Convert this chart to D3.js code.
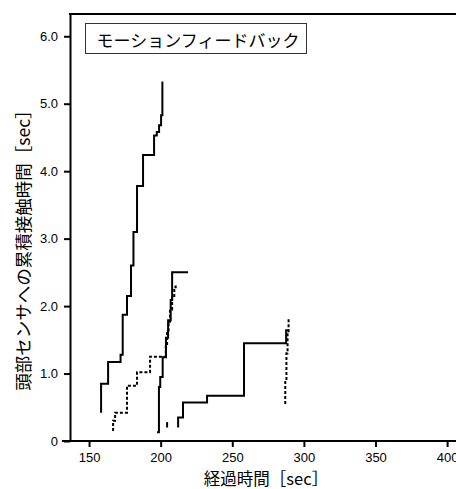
<!DOCTYPE html>
<html>
<head>
<meta charset="utf-8">
<script src="https://cdn.jsdelivr.net/npm/d3@7"></script>
<style>
  body { margin: 0; background: #fff; }
  text { font-family: "Liberation Sans", Arial, sans-serif; }
  .jp { font-family: "Noto Sans CJK JP", sans-serif; }
</style>
</head>
<body>
<div id="chart"></div>
<script>
// DATA: elapsed time [sec] at each contact event, and cumulative contact time [sec]
const timesA  = [158.4, 158.4, 163.3, 172.0, 173.5, 176.5, 179.3, 181.0, 183.5, 187.7, 195.4, 197.3, 198.9, 200.3, 201.2];
const valuesA = [0.42, 0.85, 1.17, 1.28, 1.87, 2.15, 2.60, 3.10, 3.78, 4.24, 4.53, 4.58, 4.68, 4.83, 5.33];

const timesB  = [166.8, 166.8, 168.2, 176.5, 183.5, 192.6, 203.6, 204.5, 205.5, 206.5, 208.0, 209.5, 210.5];
const valuesB = [0.15, 0.30, 0.42, 0.82, 1.02, 1.25, 1.40, 1.60, 1.75, 1.95, 2.15, 2.28, 2.33];

const timesC  = [197.5, 198.8, 198.8, 199.7, 201.4, 203.7, 205.2, 207.0, 208.0, 219.1];
const valuesC = [0.13, 0.13, 0.80, 0.95, 1.24, 1.53, 1.79, 2.09, 2.50, 2.50];

const timesD  = [212.2, 212.2, 215.6, 232.4, 258.2, 287.6, 289.6];
const valuesD = [0.20, 0.35, 0.57, 0.67, 1.45, 1.64, 1.64];

const timesE  = [287.0, 287.0, 287.8, 288.6, 289.3];
const valuesE = [0.55, 0.90, 1.30, 1.60, 1.83];

const timesF  = [204.5, 204.5];
const valuesF = [0.20, 0.28];

const seriesList = [
    { t: timesA, v: valuesA, dashed: false },
    { t: timesB, v: valuesB, dashed: true },
    { t: timesC, v: valuesC, dashed: false },
    { t: timesD, v: valuesD, dashed: false },
    { t: timesE, v: valuesE, dashed: true },
    { t: timesF, v: valuesF, dashed: false }
];

const xTicks = [150, 200, 250, 300, 350, 400];
const yTicks = [0, 1, 2, 3, 4, 5, 6];
const legendLabel = "モーションフィードバック";
const xLabel = "経過時間［sec］";
const yLabel = "頭部センサへの累積接触時間［sec］";

// SIZE
const width = 456;
const height = 489;
const marginLeft = 70, plotTop = 14, plotBottom = 441;

const svg = d3.select("#chart").append("svg")
    .attr("width", width)
    .attr("height", height);

// SCALES
const x = d3.scaleLinear().domain([136.7, 406.2]).range([marginLeft, width]);
const y = d3.scaleLinear().domain([0, 6.33]).range([plotBottom, plotTop]);

// AXES
const xAxis = svg.append("g")
    .attr("transform", "translate(0," + plotBottom + ")")
    .call(d3.axisBottom(x).tickValues(xTicks).tickSize(6).tickSizeOuter(0));
xAxis.select(".domain").attr("d", "M62,0H" + width);

const yAxis = svg.append("g")
    .attr("transform", "translate(" + marginLeft + ",0)")
    .call(d3.axisLeft(y).tickValues(yTicks).tickSize(6).tickPadding(6).tickSizeOuter(0)
        .tickFormat(function (d) { return d === 0 ? "0" : d3.format(".1f")(d); }));

svg.selectAll(".domain").attr("stroke", "#000").attr("stroke-width", 2);
svg.selectAll(".tick line").attr("stroke", "#000").attr("stroke-width", 2);
svg.selectAll(".tick text")
    .attr("fill", "#000")
    .style("font-size", "13px")
    .style("font-family", "'Liberation Sans', Arial, sans-serif");
xAxis.selectAll(".tick text").attr("dy", "0.95em");

// top frame line
svg.append("line")
    .attr("x1", marginLeft - 1).attr("x2", width)
    .attr("y1", plotTop).attr("y2", plotTop)
    .attr("stroke", "#000").attr("stroke-width", 2);

// STEP LINES
const line = d3.line()
    .x(function (d) { return x(d[0]); })
    .y(function (d) { return y(d[1]); })
    .curve(d3.curveStepAfter);

seriesList.forEach(function (s) {
    const pts = s.t.map(function (t, i) { return [t, s.v[i]]; });
    svg.append("path")
        .datum(pts)
        .attr("d", line)
        .attr("fill", "none")
        .attr("stroke", "#000")
        .attr("stroke-width", 2)
        .attr("stroke-dasharray", s.dashed ? "3,2" : null);
});

// LEGEND BOX
svg.append("rect")
    .attr("x", 85.5).attr("y", 23.5)
    .attr("width", 221).attr("height", 30)
    .attr("fill", "#fff")
    .attr("stroke", "#333").attr("stroke-width", 1);
svg.append("text")
    .attr("class", "jp")
    .attr("x", 198).attr("y", 39)
    .attr("text-anchor", "middle")
    .attr("dominant-baseline", "central")
    .style("font-size", "17px")
    .text(legendLabel);

// AXIS LABELS
svg.append("text")
    .attr("class", "jp")
    .attr("x", 266).attr("y", 485)
    .attr("text-anchor", "middle")
    .style("font-size", "16.5px")
    .text(xLabel);

svg.append("text")
    .attr("class", "jp")
    .attr("transform", "translate(30,246) rotate(-90)")
    .attr("text-anchor", "middle")
    .style("font-size", "17.5px")
    .text(yLabel);
</script>
</body>
</html>
